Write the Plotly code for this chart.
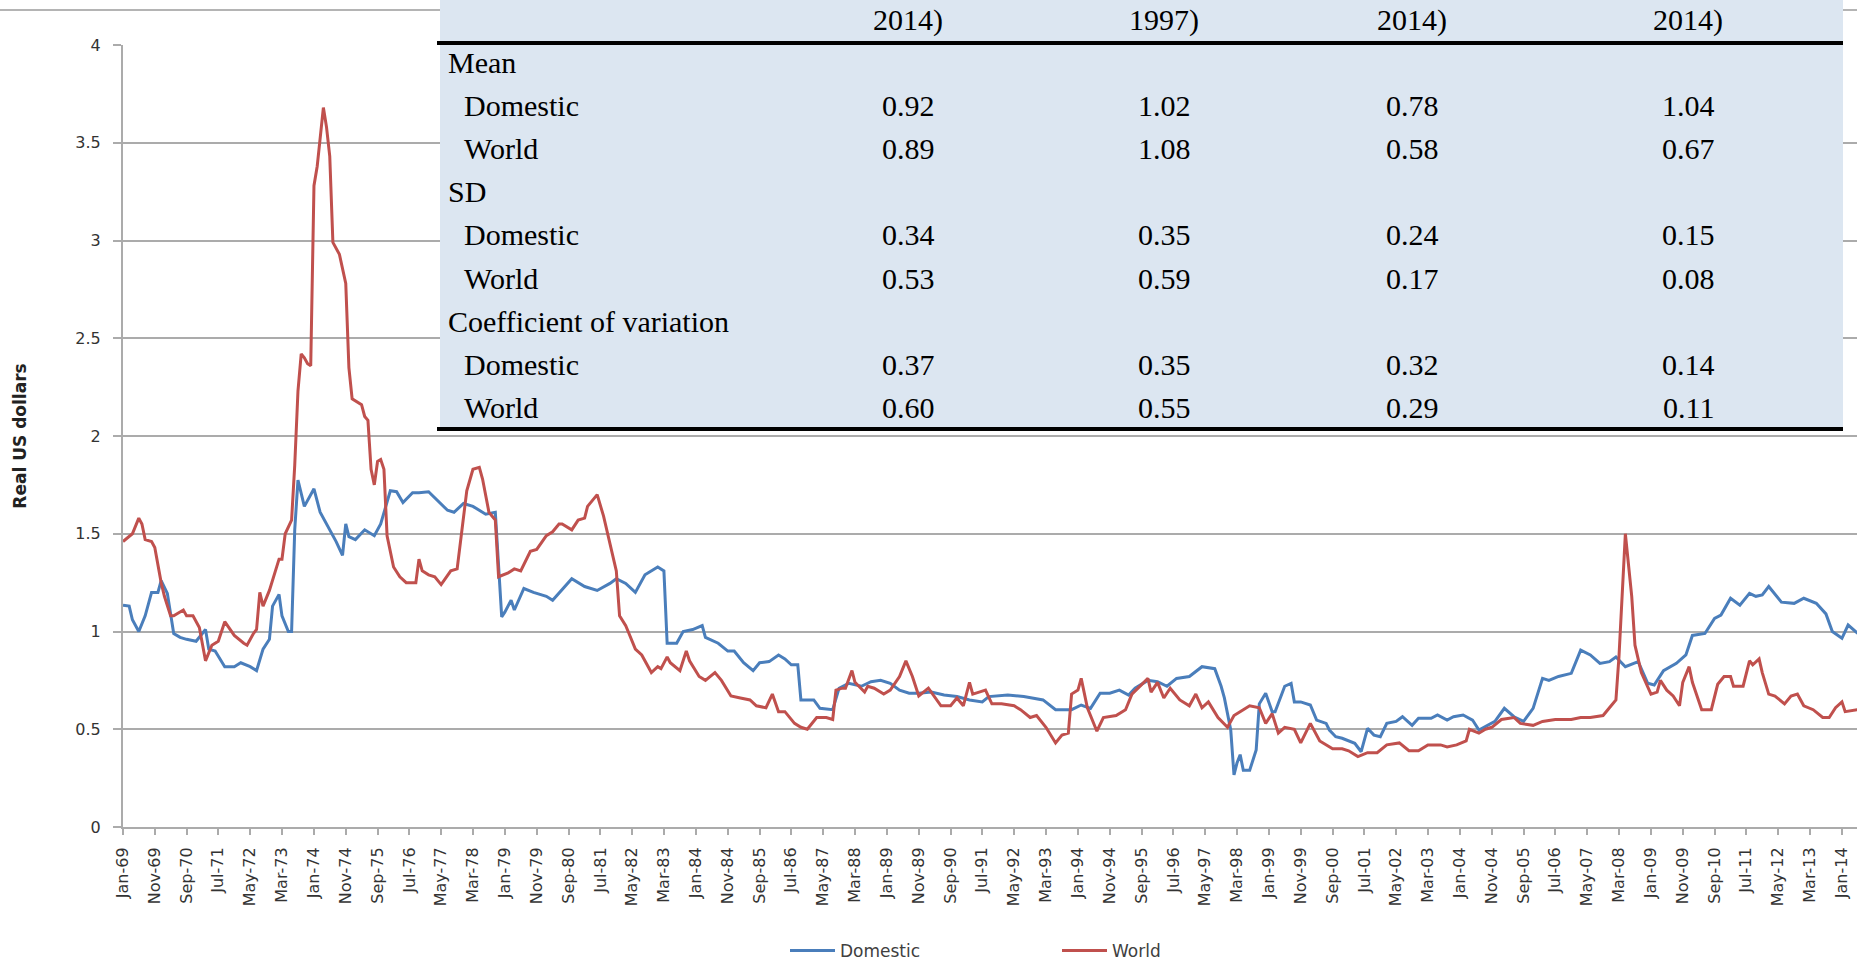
import plotly.graph_objects as go
from datetime import datetime

# ---------------- data ----------------
# month offsets since Jan-1969 and real prices (US dollars)
world_months = [
    0, 3, 5, 6, 7, 9, 10, 12, 13, 15,
    16, 19, 20, 22, 24, 26, 28, 30, 32, 35,
    38, 39, 41, 42, 43, 44, 46, 47, 49, 50,
    51, 53, 54, 55, 56, 57, 58, 59, 60, 61,
    62, 63, 64, 65, 66, 68, 70, 71, 72, 75,
    76, 77, 78, 79, 80, 81, 82, 83, 85, 87,
    89, 92, 93, 94, 96, 98, 100, 103, 105, 108,
    110, 112, 113, 115, 117, 118, 121, 123, 125, 128,
    130, 133, 135, 137, 138, 141, 143, 145, 146, 148,
    149, 151, 153, 155, 156, 158, 159, 161, 163, 166,
    168, 169, 171, 172, 175, 177, 178, 181, 183, 186,
    188, 191, 194, 197, 199, 202, 204, 206, 208, 211,
    213, 215, 218, 221, 223, 224, 226, 227, 229, 230,
    233, 234, 236, 239, 241, 244, 246, 248, 250, 253,
    257, 260, 262, 264, 266, 267, 269, 271, 273, 276,
    280, 282, 285, 287, 290, 293, 295, 297, 298, 300,
    301, 303, 306, 308, 312, 315, 317, 319, 322, 323,
    325, 327, 329, 332, 335, 337, 339, 341, 344, 347,
    349, 352, 354, 357, 359, 361, 363, 365, 368, 370,
    373, 376, 380, 383, 385, 388, 391, 394, 397, 401,
    404, 407, 410, 414, 416, 419, 422, 423, 426, 428,
    430, 433, 437, 439, 443, 446, 450, 455, 458, 461,
    465, 467, 469, 470, 471, 472, 474, 475, 477, 480,
    482, 483, 485, 487, 489, 490, 492, 493, 496, 499,
    501, 503, 505, 506, 509, 511, 512, 514, 515, 517,
    519, 522, 524, 526, 528, 531, 534, 536, 538, 540,
    541, 545,
]
world_values = [
    1.46, 1.50, 1.58, 1.55, 1.47, 1.46, 1.43, 1.25, 1.18, 1.08,
    1.08, 1.11, 1.08, 1.08, 1.02, 0.85, 0.93, 0.95, 1.05, 0.98,
    0.94, 0.93, 0.99, 1.01, 1.20, 1.13, 1.21, 1.26, 1.37, 1.37,
    1.50, 1.57, 1.85, 2.23, 2.42, 2.40, 2.37, 2.36, 3.28, 3.38,
    3.52, 3.68, 3.58, 3.43, 2.99, 2.93, 2.78, 2.35, 2.19, 2.16,
    2.10, 2.08, 1.83, 1.75, 1.87, 1.88, 1.83, 1.49, 1.33, 1.28,
    1.25, 1.25, 1.37, 1.31, 1.29, 1.28, 1.24, 1.31, 1.32, 1.72,
    1.83, 1.84, 1.78, 1.61, 1.57, 1.28, 1.30, 1.32, 1.31, 1.41,
    1.42, 1.49, 1.51, 1.55, 1.55, 1.52, 1.57, 1.58, 1.64, 1.68,
    1.70, 1.59, 1.45, 1.31, 1.08, 1.03, 0.99, 0.91, 0.88, 0.79,
    0.82, 0.81, 0.87, 0.84, 0.80, 0.90, 0.85, 0.77, 0.75, 0.79,
    0.75, 0.67, 0.66, 0.65, 0.62, 0.61, 0.68, 0.59, 0.59, 0.53,
    0.51, 0.50, 0.56, 0.56, 0.55, 0.70, 0.71, 0.71, 0.80, 0.74,
    0.69, 0.72, 0.71, 0.68, 0.70, 0.77, 0.85, 0.77, 0.67, 0.71,
    0.62, 0.62, 0.66, 0.62, 0.74, 0.68, 0.69, 0.70, 0.63, 0.63,
    0.62, 0.60, 0.56, 0.57, 0.51, 0.43, 0.47, 0.48, 0.68, 0.70,
    0.76, 0.61, 0.49, 0.56, 0.57, 0.60, 0.68, 0.71, 0.76, 0.69,
    0.74, 0.66, 0.71, 0.65, 0.62, 0.68, 0.61, 0.64, 0.56, 0.51,
    0.57, 0.60, 0.62, 0.61, 0.53, 0.58, 0.48, 0.51, 0.50, 0.43,
    0.53, 0.44, 0.40, 0.40, 0.39, 0.36, 0.38, 0.38, 0.42, 0.43,
    0.39, 0.39, 0.42, 0.42, 0.41, 0.42, 0.44, 0.50, 0.48, 0.50,
    0.51, 0.55, 0.56, 0.53, 0.52, 0.54, 0.55, 0.55, 0.56, 0.56,
    0.57, 0.61, 0.65, 0.87, 1.18, 1.50, 1.18, 0.93, 0.79, 0.68,
    0.69, 0.75, 0.70, 0.67, 0.62, 0.74, 0.82, 0.74, 0.60, 0.60,
    0.73, 0.77, 0.77, 0.72, 0.72, 0.85, 0.83, 0.86, 0.79, 0.68,
    0.67, 0.63, 0.67, 0.68, 0.62, 0.60, 0.56, 0.56, 0.61, 0.64,
    0.59, 0.60,
]

domestic_months = [
    0, 2, 3, 5, 7, 9, 11, 12, 14, 16,
    18, 20, 23, 26, 27, 29, 32, 35, 37, 40,
    42, 44, 46, 47, 49, 50, 52, 53, 54, 55,
    57, 60, 62, 65, 67, 69, 70, 71, 73, 76,
    79, 81, 83, 84, 86, 88, 91, 93, 96, 100,
    102, 104, 107, 110, 112, 114, 117, 119, 120, 122,
    123, 126, 129, 133, 135, 137, 141, 145, 149, 153,
    155, 158, 161, 164, 168, 170, 171, 174, 176, 179,
    182, 183, 187, 190, 192, 195, 198, 200, 203, 206,
    208, 210, 212, 213, 217, 219, 223, 225, 228, 232,
    235, 238, 241, 244, 247, 250, 254, 258, 262, 266,
    270, 272, 278, 283, 289, 293, 298, 301, 304, 307,
    310, 313, 316, 318, 322, 325, 328, 331, 335, 339,
    343, 345, 346, 347, 348, 349, 350, 351, 352, 354,
    356, 357, 359, 361, 362, 365, 367, 368, 370, 373,
    375, 378, 379, 381, 383, 387, 389, 391, 393, 395,
    397, 400, 402, 405, 407, 411, 413, 416, 418, 421,
    424, 426, 428, 431, 434, 437, 440, 443, 446, 448,
    451, 455, 458, 461, 464, 467, 469, 472, 476, 479,
    481, 484, 488, 491, 493, 497, 500, 502, 505, 508,
    511, 513, 515, 517, 521, 525, 528, 532, 535, 537,
    540, 542, 545,
]
domestic_values = [
    1.135, 1.13, 1.06, 1.00, 1.08, 1.20, 1.20, 1.26, 1.195, 0.99,
    0.97, 0.96, 0.95, 1.01, 0.91, 0.90, 0.82, 0.82, 0.84, 0.82,
    0.80, 0.91, 0.96, 1.13, 1.19, 1.08, 1.00, 1.00, 1.52, 1.775,
    1.64, 1.73, 1.61, 1.52, 1.46, 1.39, 1.55, 1.485, 1.47, 1.52,
    1.49, 1.55, 1.66, 1.72, 1.715, 1.66, 1.71, 1.71, 1.715, 1.655,
    1.62, 1.61, 1.655, 1.64, 1.62, 1.60, 1.61, 1.075, 1.10, 1.16,
    1.11, 1.22, 1.20, 1.18, 1.16, 1.195, 1.27, 1.23, 1.21, 1.246,
    1.27, 1.246, 1.20, 1.29, 1.33, 1.31, 0.94, 0.94, 1.00, 1.01,
    1.03, 0.97, 0.94, 0.90, 0.90, 0.84, 0.80, 0.84, 0.846, 0.88,
    0.86, 0.83, 0.83, 0.65, 0.65, 0.607, 0.60, 0.71, 0.735, 0.72,
    0.743, 0.75, 0.735, 0.70, 0.684, 0.684, 0.69, 0.675, 0.667, 0.65,
    0.64, 0.667, 0.675, 0.667, 0.65, 0.60, 0.60, 0.624, 0.607, 0.684,
    0.684, 0.70, 0.675, 0.71, 0.75, 0.743, 0.72, 0.76, 0.77, 0.82,
    0.81, 0.72, 0.66, 0.58, 0.496, 0.266, 0.326, 0.37, 0.29, 0.29,
    0.394, 0.63, 0.684, 0.59, 0.59, 0.72, 0.735, 0.64, 0.64, 0.624,
    0.547, 0.53, 0.496, 0.462, 0.454, 0.428, 0.385, 0.505, 0.47, 0.462,
    0.53, 0.54, 0.564, 0.52, 0.556, 0.556, 0.573, 0.547, 0.564, 0.573,
    0.547, 0.496, 0.513, 0.54, 0.607, 0.564, 0.54, 0.607, 0.76, 0.75,
    0.77, 0.786, 0.905, 0.88, 0.837, 0.846, 0.87, 0.82, 0.846, 0.735,
    0.726, 0.80, 0.837, 0.88, 0.98, 0.99, 1.067, 1.084, 1.17, 1.135,
    1.195, 1.18, 1.187, 1.23, 1.15, 1.144, 1.17, 1.144, 1.09, 1.00,
    0.965, 1.033, 0.99,
]

tick_labels = [
    "Jan-69", "Nov-69", "Sep-70", "Jul-71", "May-72", "Mar-73", "Jan-74", "Nov-74",
    "Sep-75", "Jul-76", "May-77", "Mar-78", "Jan-79", "Nov-79", "Sep-80", "Jul-81",
    "May-82", "Mar-83", "Jan-84", "Nov-84", "Sep-85", "Jul-86", "May-87", "Mar-88",
    "Jan-89", "Nov-89", "Sep-90", "Jul-91", "May-92", "Mar-93", "Jan-94", "Nov-94",
    "Sep-95", "Jul-96", "May-97", "Mar-98", "Jan-99", "Nov-99", "Sep-00", "Jul-01",
    "May-02", "Mar-03", "Jan-04", "Nov-04", "Sep-05", "Jul-06", "May-07", "Mar-08",
    "Jan-09", "Nov-09", "Sep-10", "Jul-11", "May-12", "Mar-13", "Jan-14",
]

# summary table overlay
table_headers = ["2014)", "1997)", "2014)", "2014)"]
table_row_labels = ["Mean", "Domestic", "World", "SD", "Domestic", "World",
                    "Coefficient of variation", "Domestic", "World"]
table_group_rows = ["Mean", "SD", "Coefficient of variation"]
table_col1 = ["", "0.92", "0.89", "", "0.34", "0.53", "", "0.37", "0.60"]
table_col2 = ["", "1.02", "1.08", "", "0.35", "0.59", "", "0.35", "0.55"]
table_col3 = ["", "0.78", "0.58", "", "0.24", "0.17", "", "0.32", "0.29"]
table_col4 = ["", "1.04", "0.67", "", "0.15", "0.08", "", "0.14", "0.11"]

# ---------------- helpers ----------------
def month_to_date(m):
    return f"{1969 + m // 12}-{m % 12 + 1:02d}-01"

tick_vals = [datetime.strptime(t, "%b-%y").strftime("%Y-%m-%d") for t in tick_labels]

W, H = 1857, 963
L, T, PW, PH = 123, 45, 1734, 782


def xp(px):
    return (px - L) / PW


def yp(py):
    return (T + PH - py) / PH


BLUE = "#4a7ebb"
RED = "#c0504d"
GRID = "#ababab"

fig = go.Figure()
fig.add_trace(go.Scatter(
    x=[month_to_date(m) for m in domestic_months], y=domestic_values,
    mode="lines", name="Domestic", line=dict(color=BLUE, width=3)))
fig.add_trace(go.Scatter(
    x=[month_to_date(m) for m in world_months], y=world_values,
    mode="lines", name="World", line=dict(color=RED, width=3)))

shapes = []
# faint outer frame line at the top
shapes.append(dict(type="line", xref="paper", yref="paper",
                   x0=xp(0), x1=xp(W), y0=yp(10), y1=yp(10),
                   line=dict(color="#b4b4b4", width=2), layer="above"))
# table background
shapes.append(dict(type="rect", xref="paper", yref="paper",
                   x0=xp(440), x1=xp(1843), y0=yp(-2), y1=yp(429),
                   fillcolor="#dce6f1", line=dict(width=0), layer="above"))
# header and bottom rules
for py in (43, 429):
    shapes.append(dict(type="line", xref="paper", yref="paper",
                       x0=xp(437), x1=xp(1843), y0=yp(py), y1=yp(py),
                       line=dict(color="black", width=4), layer="above"))

annotations = []
serif = dict(family="Liberation Serif, Times New Roman, serif", size=30, color="black")
col_centers = [908, 1164, 1412, 1688]
for cx, h in zip(col_centers, table_headers):
    annotations.append(dict(xref="paper", yref="paper", x=xp(cx), y=yp(20),
                            text=h, showarrow=False, xanchor="center",
                            yanchor="middle", font=serif))
row_y = [63 + 43 * i for i in range(len(table_row_labels))]
for ry, lab in zip(row_y, table_row_labels):
    lx = 446 if lab in table_group_rows else 462
    annotations.append(dict(xref="paper", yref="paper", x=xp(lx), y=yp(ry),
                            text=lab, showarrow=False, xanchor="left",
                            yanchor="middle", font=serif))
for cx, col in zip(col_centers, [table_col1, table_col2, table_col3, table_col4]):
    for ry, v in zip(row_y, col):
        if v:
            annotations.append(dict(xref="paper", yref="paper", x=xp(cx), y=yp(ry),
                                    text=v, showarrow=False, xanchor="center",
                                    yanchor="middle", font=serif))

tick_font = dict(family="DejaVu Sans, sans-serif", size=16, color="#333333")

fig.update_layout(
    width=W, height=H, autosize=False,
    margin=dict(l=L, r=W - L - PW, t=T, b=H - T - PH, pad=0, autoexpand=False),
    paper_bgcolor="white", plot_bgcolor="white",
    showlegend=True,
    legend=dict(orientation="h", xref="container", yref="container",
                x=785 / W, xanchor="left",
                y=1 - 951 / H, yanchor="middle",
                font=dict(family="DejaVu Sans, sans-serif", size=17, color="#404040"),
                itemwidth=45,
                entrywidth=212, entrywidthmode="pixels",
                bgcolor="rgba(0,0,0,0)", borderwidth=0),
    xaxis=dict(
        type="date", range=["1969-01-01", "2014-05-25"], automargin=False,
        tickmode="array", tickvals=tick_vals, ticktext=tick_labels,
        tickangle=-90, tickfont=tick_font,
        ticks="outside", ticklen=6, tickwidth=1.5, tickcolor=GRID,
        ticklabelstandoff=6,
        showgrid=False, zeroline=False,
        showline=True, linecolor=GRID, linewidth=2,
    ),
    yaxis=dict(
        range=[0, 4], dtick=0.5, tick0=0, automargin=False,
        tickfont=tick_font,
        ticks="outside", ticklen=8, tickwidth=1.5, tickcolor=GRID,
        ticklabelstandoff=9,
        showgrid=True, gridcolor=GRID, gridwidth=2,
        zeroline=False,
        showline=True, linecolor=GRID, linewidth=2,
        title=dict(text="Real US dollars", standoff=44,
                   font=dict(family="DejaVu Sans, sans-serif", size=17,
                             color="#222222", weight="bold")),
    ),
    shapes=shapes,
    annotations=annotations,
)

fig.write_html(
    "out.html",
    config={"displayModeBar": False},
    post_script="document.body.style.margin='0px';document.body.style.overflow='hidden';",
)
